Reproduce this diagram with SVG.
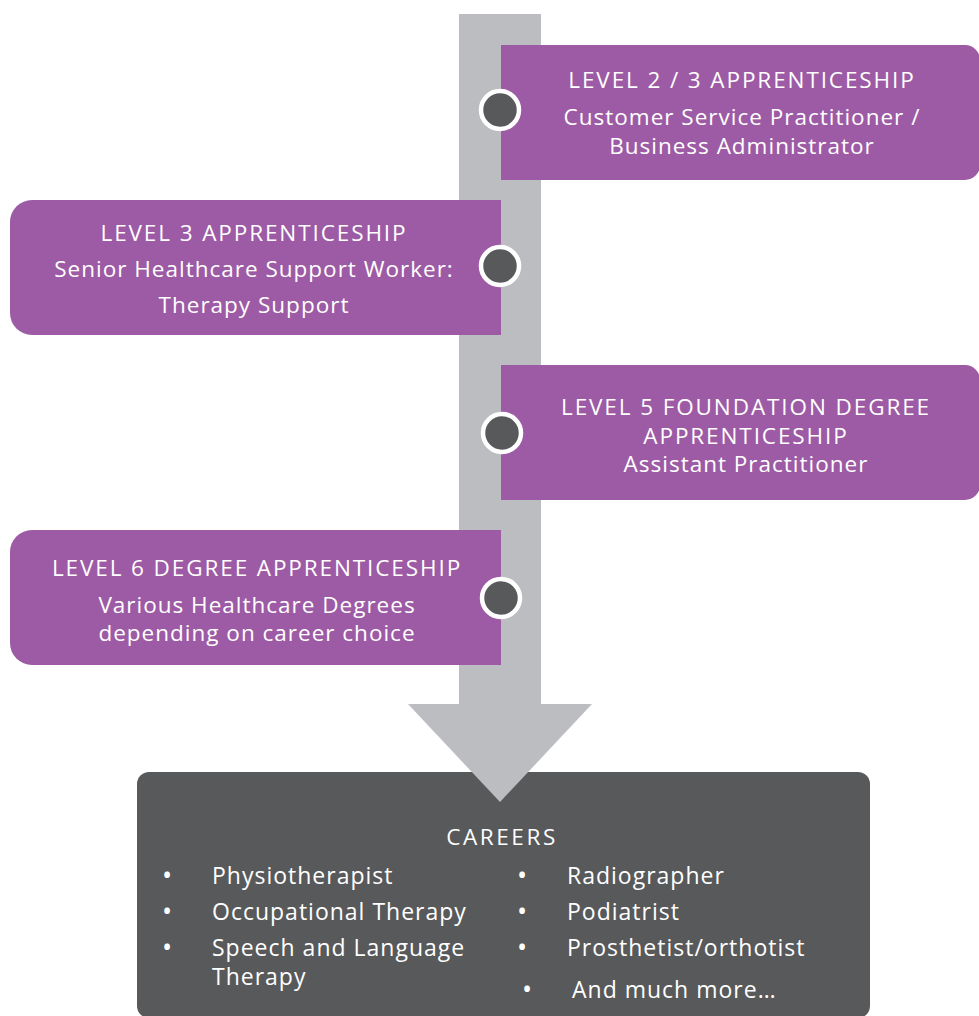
<svg xmlns="http://www.w3.org/2000/svg" width="979" height="1016" viewBox="0 0 979 1016">
  <style>
    .stage { fill: #9d5ba5; }
    .spine { fill: #bcbdc0; }
    .dot { fill: #58595b; stroke: #ffffff; stroke-width: 4.5; }
    .careers { fill: #58595b; }
    text { font-family: "Open Sans", "Noto Sans", "Liberation Sans", sans-serif; fill: #ffffff; font-size: 22.5px; letter-spacing: 1px; }
    .c { text-anchor: middle; }
    .cap { letter-spacing: 1.9px; }
    .item text { font-size: 23px; letter-spacing: 1px; }
    .item .b { font-size: 27px; letter-spacing: 0; }
  </style>

  <!-- timeline spine with downward arrow -->
  <g id="connectors">
    <rect class="spine" x="459" y="14" width="82" height="692"/>
  </g>

  <!-- careers panel -->
  <g id="careers">
    <rect class="careers" x="137" y="772" width="733" height="246" rx="12"/>
    <text class="c" x="502" y="845" style="letter-spacing:2.6px">CAREERS</text>
    <g class="item">
      <text class="b" x="162" y="885">•</text>
      <text x="212" y="884">Physiotherapist</text>
      <text class="b" x="162" y="921">•</text>
      <text x="212" y="920">Occupational Therapy</text>
      <text class="b" x="162" y="957">•</text>
      <text x="212" y="956">Speech and Language</text>
      <text x="212" y="985">Therapy</text>
      <text class="b" x="517" y="885">•</text>
      <text x="567" y="884">Radiographer</text>
      <text class="b" x="517" y="921">•</text>
      <text x="567" y="920">Podiatrist</text>
      <text class="b" x="517" y="957">•</text>
      <text x="567" y="956">Prosthetist/orthotist</text>
      <text class="b" x="522" y="999">•</text>
      <text x="572" y="998">And much more…</text>
    </g>
  </g>

  <!-- arrowhead sits over the careers panel -->
  <g id="arrowhead">
    <polygon class="spine" points="408,704 592,704 500,802"/>
  </g>

  <!-- stage 1 -->
  <g id="level-2-3">
    <path class="stage" d="M501,45 H965 A15,15 0 0 1 980,60 V165 A15,15 0 0 1 965,180 H501 Z"/>
    <circle class="dot" cx="500" cy="110" r="19"/>
    <text class="c cap" x="742" y="88">LEVEL 2 / 3 APPRENTICESHIP</text>
    <text class="c" x="742" y="125">Customer Service Practitioner /</text>
    <text class="c" x="742" y="154">Business Administrator</text>
  </g>

  <!-- stage 2 -->
  <g id="level-3">
    <path class="stage" d="M501,200 H32 A22,22 0 0 0 10,222 V313 A22,22 0 0 0 32,335 H501 Z"/>
    <circle class="dot" cx="500" cy="266" r="19"/>
    <text class="c cap" x="254" y="241">LEVEL 3 APPRENTICESHIP</text>
    <text class="c" x="254" y="277">Senior Healthcare Support Worker:</text>
    <text class="c" x="254" y="313">Therapy Support</text>
  </g>

  <!-- stage 3 -->
  <g id="level-5">
    <path class="stage" d="M501,365 H965 A15,15 0 0 1 980,380 V485 A15,15 0 0 1 965,500 H501 Z"/>
    <circle class="dot" cx="502" cy="433" r="19"/>
    <text class="c cap" x="746" y="415">LEVEL 5 FOUNDATION DEGREE</text>
    <text class="c cap" x="746" y="444">APPRENTICESHIP</text>
    <text class="c" x="746" y="472">Assistant Practitioner</text>
  </g>

  <!-- stage 4 -->
  <g id="level-6">
    <path class="stage" d="M501,530 H32 A22,22 0 0 0 10,552 V643 A22,22 0 0 0 32,665 H501 Z"/>
    <circle class="dot" cx="501" cy="598" r="19"/>
    <text class="c cap" x="257" y="576">LEVEL 6 DEGREE APPRENTICESHIP</text>
    <text class="c" x="257" y="613">Various Healthcare Degrees</text>
    <text class="c" x="257" y="641">depending on career choice</text>
  </g>
</svg>
